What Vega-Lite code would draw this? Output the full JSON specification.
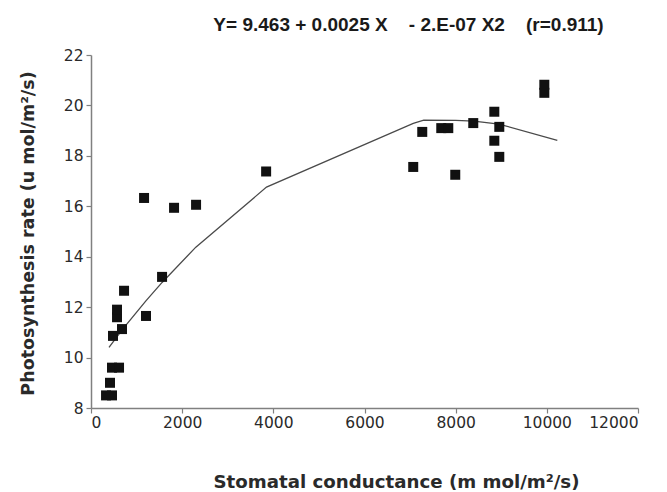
{
  "$schema": "https://vega.github.io/schema/vega-lite/v6.json",
  "width": 547,
  "height": 353,
  "autosize": {"type": "none"},
  "padding": {"left": 91, "top": 55, "right": 29, "bottom": 84},
  "background": "white",
  "title": {
    "text": "Y= 9.463 + 0.0025 X\u00a0\u00a0\u00a0\u00a0- 2.E-07 X2\u00a0\u00a0\u00a0\u00a0(r=0.911)",
    "font": "Liberation Sans",
    "fontSize": 19,
    "fontWeight": "bold",
    "color": "#1a1a1a",
    "anchor": "middle",
    "dx": 44,
    "offset": 13
  },
  "datasets": {
    "points": [
      {"x": 330, "y": 8.5}, {"x": 461, "y": 8.5}, {"x": 417, "y": 9.0},
      {"x": 461, "y": 9.6}, {"x": 615, "y": 9.6}, {"x": 483, "y": 10.86},
      {"x": 680, "y": 11.13}, {"x": 571, "y": 11.6}, {"x": 571, "y": 11.9},
      {"x": 725, "y": 12.65}, {"x": 1207, "y": 11.65}, {"x": 1559, "y": 13.2},
      {"x": 1164, "y": 16.33}, {"x": 1822, "y": 15.94}, {"x": 2305, "y": 16.06},
      {"x": 3842, "y": 17.38}, {"x": 7069, "y": 17.56}, {"x": 7267, "y": 18.95},
      {"x": 7684, "y": 19.1}, {"x": 7838, "y": 19.1}, {"x": 7991, "y": 17.25},
      {"x": 8386, "y": 19.3}, {"x": 8848, "y": 19.75}, {"x": 8957, "y": 19.15},
      {"x": 8848, "y": 18.6}, {"x": 8957, "y": 17.96}, {"x": 9945, "y": 20.82},
      {"x": 9945, "y": 20.5}
    ],
    "fit": [
      {"x": 395, "y": 10.4}, {"x": 700, "y": 11.14}, {"x": 1200, "y": 12.24},
      {"x": 1560, "y": 12.98}, {"x": 2300, "y": 14.38}, {"x": 3850, "y": 16.76},
      {"x": 7070, "y": 19.29}, {"x": 7300, "y": 19.42}, {"x": 8000, "y": 19.41},
      {"x": 8400, "y": 19.38}, {"x": 8950, "y": 19.26}, {"x": 10230, "y": 18.61}
    ]
  },
  "config": {
    "view": {"stroke": null},
    "axis": {
      "grid": false,
      "domainColor": "#808080",
      "domainWidth": 1.5,
      "tickColor": "#808080",
      "tickWidth": 1.2,
      "tickSize": 5,
      "labelFont": "DejaVu Sans",
      "labelFontSize": 15.5,
      "labelColor": "#2a2a2a",
      "titleFont": "DejaVu Sans",
      "titleFontSize": 17.5,
      "titleFontWeight": "bold",
      "titleColor": "#2a2a2a"
    }
  },
  "layer": [
    {
      "data": {"name": "fit"},
      "mark": {"type": "line", "color": "#4a4a4a", "strokeWidth": 1.3},
      "encoding": {
        "x": {"field": "x", "type": "quantitative", "sort": null},
        "y": {"field": "y", "type": "quantitative"}
      }
    },
    {
      "data": {"name": "points"},
      "mark": {"type": "point", "shape": "square", "filled": true, "size": 100, "color": "#111111", "opacity": 1},
      "encoding": {
        "x": {
          "field": "x", "type": "quantitative",
          "scale": {"domain": [0, 12000], "nice": false},
          "axis": {
            "values": [0, 2000, 4000, 6000, 8000, 10000, 12000],
            "format": "d",
            "labelPadding": 2,
            "title": "Stomatal conductance (m mol/m²/s)",
            "titleFontSize": 18.2,
            "titleX": 305,
            "titleY": 74,
            "titleBaseline": "middle"
          }
        },
        "y": {
          "field": "y", "type": "quantitative",
          "scale": {"domain": [8, 22], "nice": false, "zero": false},
          "axis": {
            "values": [8, 10, 12, 14, 16, 18, 20, 22],
            "labelPadding": 3,
            "title": "Photosynthesis rate (u mol/m²/s)",
            "titleX": -63,
            "titleY": 178,
            "titleAngle": -90,
            "titleBaseline": "middle",
            "titleAlign": "center"
          }
        }
      }
    }
  ]
}
